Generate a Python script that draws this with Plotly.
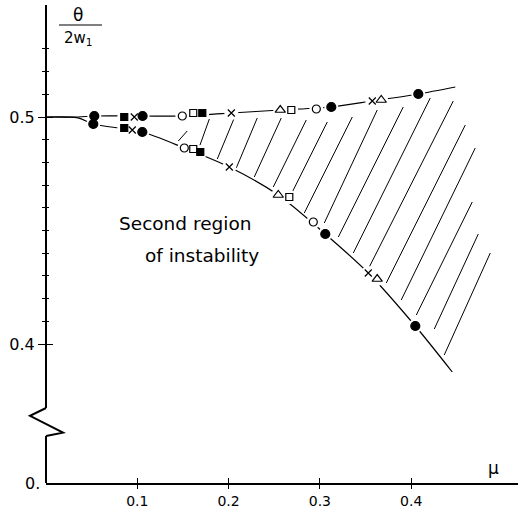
import plotly.graph_objects as go

# ---------------- data ----------------
# axis ranges / ticks
MU_RANGE = [0.0, 0.517]
TH_RANGE = [0.33877, 0.54934]
x_tick_vals = [0.1, 0.2, 0.3, 0.4]
x_tick_text = ["0.1", "0.2", "0.3", "0.4"]
y_tick_vals = [0.4, 0.5]
y_tick_text = ["0.4", "0.5"]
y_minor_vals = [0.41, 0.42, 0.43, 0.44, 0.45, 0.46, 0.47, 0.48, 0.49, 0.51, 0.52, 0.53]
y_zero_label = "0."
y_break = [0.35947, 0.37181]       # gap in the ordinate (broken axis)

# boundary curves of the second region of instability
upper_mu = [0.0, 0.035, 0.0529, 0.1058, 0.1493, 0.2030, 0.2566, 0.3125, 0.3574, 0.4078, 0.4483]
upper_th = [0.5, 0.5, 0.50044, 0.50044, 0.50044, 0.50176, 0.50308, 0.50441, 0.50705, 0.51013, 0.51322]
lower_mu = [0.0, 0.035, 0.0518, 0.1055, 0.1515, 0.2008, 0.2544, 0.3059, 0.3530, 0.4045, 0.4450]
lower_th = [0.5, 0.4996, 0.49692, 0.49339, 0.48634, 0.47797, 0.46564, 0.44846, 0.43128, 0.40793, 0.38767]

# experimental / computed points, grouped by symbol
filled_circle_mu = [0.0529, 0.1058, 0.3125, 0.4078, 0.0518, 0.1055, 0.3059, 0.4045]
filled_circle_th = [0.50044, 0.50044, 0.50441, 0.51013, 0.49692, 0.49339, 0.44846, 0.40793]
filled_square_mu = [0.0857, 0.1712, 0.0857, 0.1690]
filled_square_th = [0.5000, 0.50176, 0.49515, 0.48458]
cross_mu = [0.0967, 0.2030, 0.3574, 0.0945, 0.2008, 0.3530]
cross_th = [0.5000, 0.50176, 0.50705, 0.49427, 0.47797, 0.43128]
open_circle_mu = [0.1493, 0.2961, 0.1515, 0.2928]
open_circle_th = [0.50044, 0.50352, 0.48634, 0.45374]
open_square_mu = [0.1613, 0.2687, 0.1613, 0.2665]
open_square_th = [0.50176, 0.50308, 0.48590, 0.46476]
triangle_mu = [0.2566, 0.3672, 0.2544, 0.3628]
triangle_th = [0.50308, 0.50749, 0.46564, 0.42863]

# hatching of the unstable region (top end -> bottom end of each stroke)
hatch_top_mu = [0.1547, 0.1789, 0.2062, 0.2314, 0.2577, 0.2851, 0.3081, 0.3355, 0.3628,
                0.3913, 0.4209, 0.4461, 0.4593, 0.4702, 0.4669, 0.4735, 0.4866]
hatch_top_th = [0.49383, 0.49912, 0.49956, 0.49956, 0.49956, 0.49868, 0.49780, 0.50000, 0.50308,
                0.50441, 0.50837, 0.50705, 0.49648, 0.48634, 0.46256, 0.44846, 0.44009]
hatch_bot_mu = [0.1449, 0.1679, 0.1876, 0.2084, 0.2281, 0.2489, 0.2698, 0.2829, 0.3048,
                0.3202, 0.3366, 0.3541, 0.3727, 0.3891, 0.4056, 0.4253, 0.4362]
hatch_bot_th = [0.48943, 0.48678, 0.48150, 0.47753, 0.47357, 0.46916, 0.46696, 0.45771, 0.45330,
                0.44714, 0.44009, 0.43392, 0.42687, 0.41938, 0.41278, 0.40661, 0.39515]

region_text = ["Second region", "of instability"]
region_text_mu = [0.1527, 0.1712]
region_text_th = [0.4533, 0.4392]

# ---------------- figure ----------------
W, H = 531, 514
L, R, T, B = 46, 13, 5, 31
FONT = "DejaVu Sans"
INK = "black"

fig = go.Figure()

# hatching
hx, hy = [], []
for a, b, c, d in zip(hatch_top_mu, hatch_top_th, hatch_bot_mu, hatch_bot_th):
    hx += [a, c, None]
    hy += [b, d, None]
fig.add_trace(go.Scatter(x=hx, y=hy, mode="lines", line=dict(color=INK, width=1),
                         hoverinfo="skip"))

# boundary curves
for mx, my in [(upper_mu, upper_th), (lower_mu, lower_th)]:
    fig.add_trace(go.Scatter(x=mx, y=my, mode="lines",
                             line=dict(color=INK, width=1.2, shape="spline", smoothing=0.8),
                             hoverinfo="skip"))

# white halos so the curves break around each symbol
all_mu = (filled_circle_mu + filled_square_mu + cross_mu + open_circle_mu
          + open_square_mu + triangle_mu)
all_th = (filled_circle_th + filled_square_th + cross_th + open_circle_th
          + open_square_th + triangle_th)
fig.add_trace(go.Scatter(x=all_mu, y=all_th, mode="markers",
                         marker=dict(symbol="circle", size=14, color="white",
                                     line=dict(width=0)), hoverinfo="skip"))

marker_sets = [
    (filled_circle_mu, filled_circle_th, "circle", 9, INK),
    (filled_square_mu, filled_square_th, "square", 7, INK),
    (cross_mu, cross_th, "x-thin", 7, INK),
    (open_circle_mu, open_circle_th, "circle-open", 8, INK),
    (open_square_mu, open_square_th, "square-open", 7, INK),
    (triangle_mu, triangle_th, "triangle-up-open", 9, INK),
]
for mx, my, sym, sz, col in marker_sets:
    fig.add_trace(go.Scatter(x=mx, y=my, mode="markers",
                             marker=dict(symbol=sym, size=sz, color=col,
                                         line=dict(color=col, width=1.2))))

# dummy trace for the overlay axes (inner halves of the crossing ticks)
fig.add_trace(go.Scatter(x=[None], y=[None], xaxis="x2", yaxis="y2", mode="markers"))

# text in the region
for txt, mx, my in zip(region_text, region_text_mu, region_text_th):
    fig.add_annotation(x=mx, y=my, text=txt, showarrow=False, xref="x", yref="y",
                       xanchor="center", yanchor="middle",
                       font=dict(family=FONT, size=18.5, color=INK))

# paper helpers for the broken ordinate
def py(v):
    return (v - TH_RANGE[0]) / (TH_RANGE[1] - TH_RANGE[0])

plot_w = W - L - R
plot_h = H - T - B
def px_off(pix):
    return pix / plot_w

# ordinate drawn by hand so it can be broken
fig.add_shape(type="line", xref="paper", yref="paper", x0=0, x1=0, y0=py(y_break[1]), y1=1,
              line=dict(color=INK, width=2))
fig.add_shape(type="line", xref="paper", yref="paper", x0=0, x1=0, y0=0, y1=py(y_break[0]),
              line=dict(color=INK, width=2))
yb0, yb1 = py(y_break[0]), py(y_break[1])
zig = (f"M 0 {yb1} L {px_off(-16)} {yb1 - (yb1 - yb0) * 0.28} "
       f"L {px_off(17)} {yb0 + (yb1 - yb0) * 0.12} L 0 {yb0}")
fig.add_shape(type="path", xref="paper", yref="paper", path=zig,
              line=dict(color=INK, width=2))

# ordinate label  θ / 2w1
fig.add_annotation(xref="paper", yref="paper", x=px_off(32), y=1 - 10 / plot_h,
                   text="θ", showarrow=False, font=dict(family=FONT, size=17, color=INK),
                   xanchor="center", yanchor="middle")
fig.add_shape(type="line", xref="paper", yref="paper", x0=px_off(13), x1=px_off(56),
              y0=1 - 20 / plot_h, y1=1 - 20 / plot_h, line=dict(color=INK, width=1.2))
fig.add_annotation(xref="paper", yref="paper", x=px_off(32), y=1 - 33 / plot_h,
                   text="2w<sub>1</sub>", showarrow=False,
                   font=dict(family=FONT, size=15, color=INK),
                   xanchor="center", yanchor="middle")

# zero label of the broken ordinate
fig.add_annotation(xref="paper", yref="paper", x=px_off(-4), y=0, text=y_zero_label,
                   showarrow=False, xanchor="right", yanchor="middle",
                   font=dict(family=FONT, size=16, color=INK))

# abscissa label μ
fig.add_annotation(xref="x", yref="paper", x=0.490, y=0, yshift=3, text="μ",
                   showarrow=False, xanchor="center", yanchor="bottom",
                   font=dict(family=FONT, size=17, color=INK))

common_x = dict(range=MU_RANGE, showgrid=False, zeroline=False, fixedrange=True,
                automargin=False)
common_y = dict(range=TH_RANGE, showgrid=False, zeroline=False, fixedrange=True,
                automargin=False)

fig.update_layout(
    width=W, height=H,
    margin=dict(l=L, r=R, t=T, b=B, autoexpand=False),
    paper_bgcolor="white", plot_bgcolor="white",
    showlegend=False,
    xaxis=dict(**common_x, showline=True, linecolor=INK, linewidth=1.5,
               tickmode="array", tickvals=x_tick_vals, ticktext=x_tick_text,
               ticks="outside", ticklen=4, tickcolor=INK, tickwidth=1,
               tickfont=dict(family=FONT, size=14, color=INK)),
    yaxis=dict(**common_y, showline=False,
               tickmode="array", tickvals=y_tick_vals, ticktext=y_tick_text,
               ticks="outside", ticklen=7, tickcolor=INK, tickwidth=1.2,
               tickfont=dict(family=FONT, size=16, color=INK),
               minor=dict(tickmode="array", tickvals=y_minor_vals, ticks="outside",
                          ticklen=3, tickcolor=INK, tickwidth=1)),
    xaxis2=dict(**common_x, overlaying="x", anchor="y2", side="bottom", showline=False,
                tickmode="array", tickvals=x_tick_vals, showticklabels=False,
                ticks="inside", ticklen=5, tickcolor=INK, tickwidth=1),
    yaxis2=dict(**common_y, overlaying="y", anchor="x2", side="left", showline=False,
                tickmode="array", tickvals=y_tick_vals, showticklabels=False,
                ticks="inside", ticklen=7, tickcolor=INK, tickwidth=1.2,
                minor=dict(tickmode="array", tickvals=y_minor_vals, ticks="inside",
                           ticklen=3, tickcolor=INK, tickwidth=1)),
)

# the page's default body margin would shift the figure by 8 px
fig.write_html("out.html", config={"displayModeBar": False},
               post_script="document.body.style.margin='0';")
